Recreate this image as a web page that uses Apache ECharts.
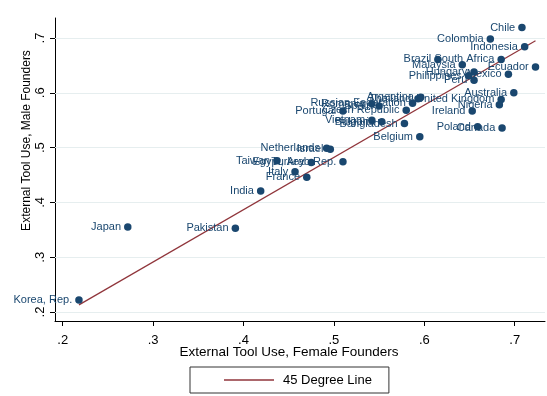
<!DOCTYPE html>
<html>
<head>
<meta charset="utf-8">
<script src="https://cdn.jsdelivr.net/npm/echarts@6/dist/echarts.min.js"></script>
<style>
  html, body { margin: 0; padding: 0; background: #ffffff; }
  #chart { width: 547px; height: 396px; }
</style>
</head>
<body>
<div id="chart"></div>
<script>
// Share of founders using external tools, by country
const countries = [
  'Chile', 'Colombia', 'Indonesia', 'Brazil', 'South Africa', 'Malaysia', 'Ecuador',
  'Hungary', 'Philippines', 'Peru', 'Mexico', 'Australia', 'United Kingdom', 'Nigeria',
  'Ireland', 'Poland', 'Canada', 'Argentina', 'Thailand', 'Russian Federation', 'Romania',
  'Spain', 'Portugal', 'Czech Republic', 'Vietnam', 'Bulgaria', 'Bangladesh', 'Belgium',
  'Netherlands', 'Israel', 'Egypt, Arab Rep.', 'Taiwan', 'Turkey', 'Italy', 'France',
  'India', 'Japan', 'Pakistan', 'Korea, Rep.'
];
const femaleUse = [
  0.708, 0.673, 0.711, 0.615, 0.685, 0.642, 0.723,
  0.655, 0.649, 0.655, 0.693, 0.699, 0.685, 0.683,
  0.653, 0.659, 0.686, 0.596, 0.593, 0.587, 0.542,
  0.550, 0.510, 0.580, 0.542, 0.553, 0.578, 0.595,
  0.492, 0.496, 0.510, 0.437, 0.475, 0.457, 0.470,
  0.419, 0.272, 0.391, 0.218
];
const maleUse = [
  0.719, 0.698, 0.684, 0.661, 0.661, 0.651, 0.647,
  0.638, 0.631, 0.623, 0.634, 0.600, 0.588, 0.578,
  0.567, 0.538, 0.536, 0.592, 0.589, 0.581, 0.580,
  0.576, 0.567, 0.568, 0.550, 0.547, 0.544, 0.520,
  0.499, 0.497, 0.474, 0.476, 0.473, 0.456, 0.446,
  0.421, 0.355, 0.353, 0.222
];
// Reference line endpoints
const refLineX = [0.218, 0.723];
const refLineY = [0.213, 0.695];
const refLineName = '45 Degree Line';

const tickValues = [0.2, 0.3, 0.4, 0.5, 0.6, 0.7];
const tickLabels = ['.2', '.3', '.4', '.5', '.6', '.7'];

const FONT = 'Liberation Sans, Arial, sans-serif';
const NAVY = '#1a476f';
const MAROON = '#90353b';

const fmtTick = v => {
  const i = tickValues.findIndex(t => Math.abs(t - v) < 1e-6);
  return i >= 0 ? tickLabels[i] : '';
};

const points = countries.map((c, i) => [femaleUse[i], maleUse[i], c]);
const refLine = refLineX.map((x, i) => [x, refLineY[i]]);

const chart = echarts.init(document.getElementById('chart'), null, { renderer: 'canvas' });
chart.setOption({
  animation: false,
  backgroundColor: '#ffffff',
  textStyle: { fontFamily: FONT },
  grid: { left: 55, right: 2, top: 18, bottom: 75, containLabel: false },
  xAxis: {
    type: 'value',
    min: 0.1915,
    max: 0.7335,
    name: 'External Tool Use, Female Founders',
    nameLocation: 'middle',
    nameGap: 24,
    nameMoveOverlap: false,
    nameTextStyle: { color: '#000', fontSize: 13.5, fontFamily: FONT, padding: [0, 22, 0, 0] },
    axisLine: { show: true, onZero: false, lineStyle: { color: '#000', width: 1 } },
    axisTick: { show: true, length: 5, customValues: tickValues, lineStyle: { color: '#000' } },
    axisLabel: { customValues: tickValues, formatter: fmtTick, color: '#000', fontSize: 13, fontFamily: FONT, margin: 13 },
    splitLine: { show: false }
  },
  yAxis: {
    type: 'value',
    min: 0.1836,
    max: 0.7365,
    name: 'External Tool Use, Male Founders',
    nameLocation: 'middle',
    nameGap: 22,
    nameMoveOverlap: false,
    nameTextStyle: { color: '#000', fontSize: 12, fontFamily: FONT, padding: [0, 0, 0, 58] },
    axisLine: { show: true, onZero: false, lineStyle: { color: '#000', width: 1 } },
    axisTick: { show: true, length: 5, customValues: tickValues, lineStyle: { color: '#000' } },
    axisLabel: { customValues: tickValues, formatter: fmtTick, rotate: 90, color: '#000', fontSize: 13, fontFamily: FONT, margin: 8 },
    splitLine: { show: false }
  },
  legend: {
    data: [{ name: refLineName, icon: 'rect' }],
    left: 190,
    top: 367,
    orient: 'horizontal',
    padding: [5.5, 17, 5.5, 34],
    itemWidth: 50,
    itemHeight: 1.5,
    borderColor: '#333',
    borderWidth: 1,
    borderRadius: 0,
    textStyle: { color: '#000', fontSize: 13, fontFamily: FONT, padding: [0, 0, 0, 4], lineHeight: 15 }
  },
  series: [
    {
      // horizontal gridlines at the y tick values
      type: 'line',
      data: [],
      silent: true,
      z: 1,
      markLine: {
        silent: true,
        z: 1,
        symbol: ['none', 'none'],
        label: { show: false },
        lineStyle: { color: '#e6eeef', width: 1, type: 'solid' },
        data: tickValues.map(v => ({ yAxis: v }))
      }
    },
    {
      name: refLineName,
      type: 'line',
      data: refLine,
      symbol: 'none',
      z: 3,
      lineStyle: { color: MAROON, width: 1.2 },
      itemStyle: { color: MAROON }
    },
    {
      name: 'Countries',
      type: 'scatter',
      data: points,
      symbol: 'circle',
      symbolSize: 7.5,
      z: 4,
      itemStyle: { color: NAVY, opacity: 1 },
      label: {
        show: true,
        position: 'left',
        distance: 3,
        formatter: p => p.value[2],
        color: NAVY,
        fontSize: 11,
        fontFamily: FONT
      },
      labelLayout: { hideOverlap: false }
    }
  ]
});
</script>
</body>
</html>
